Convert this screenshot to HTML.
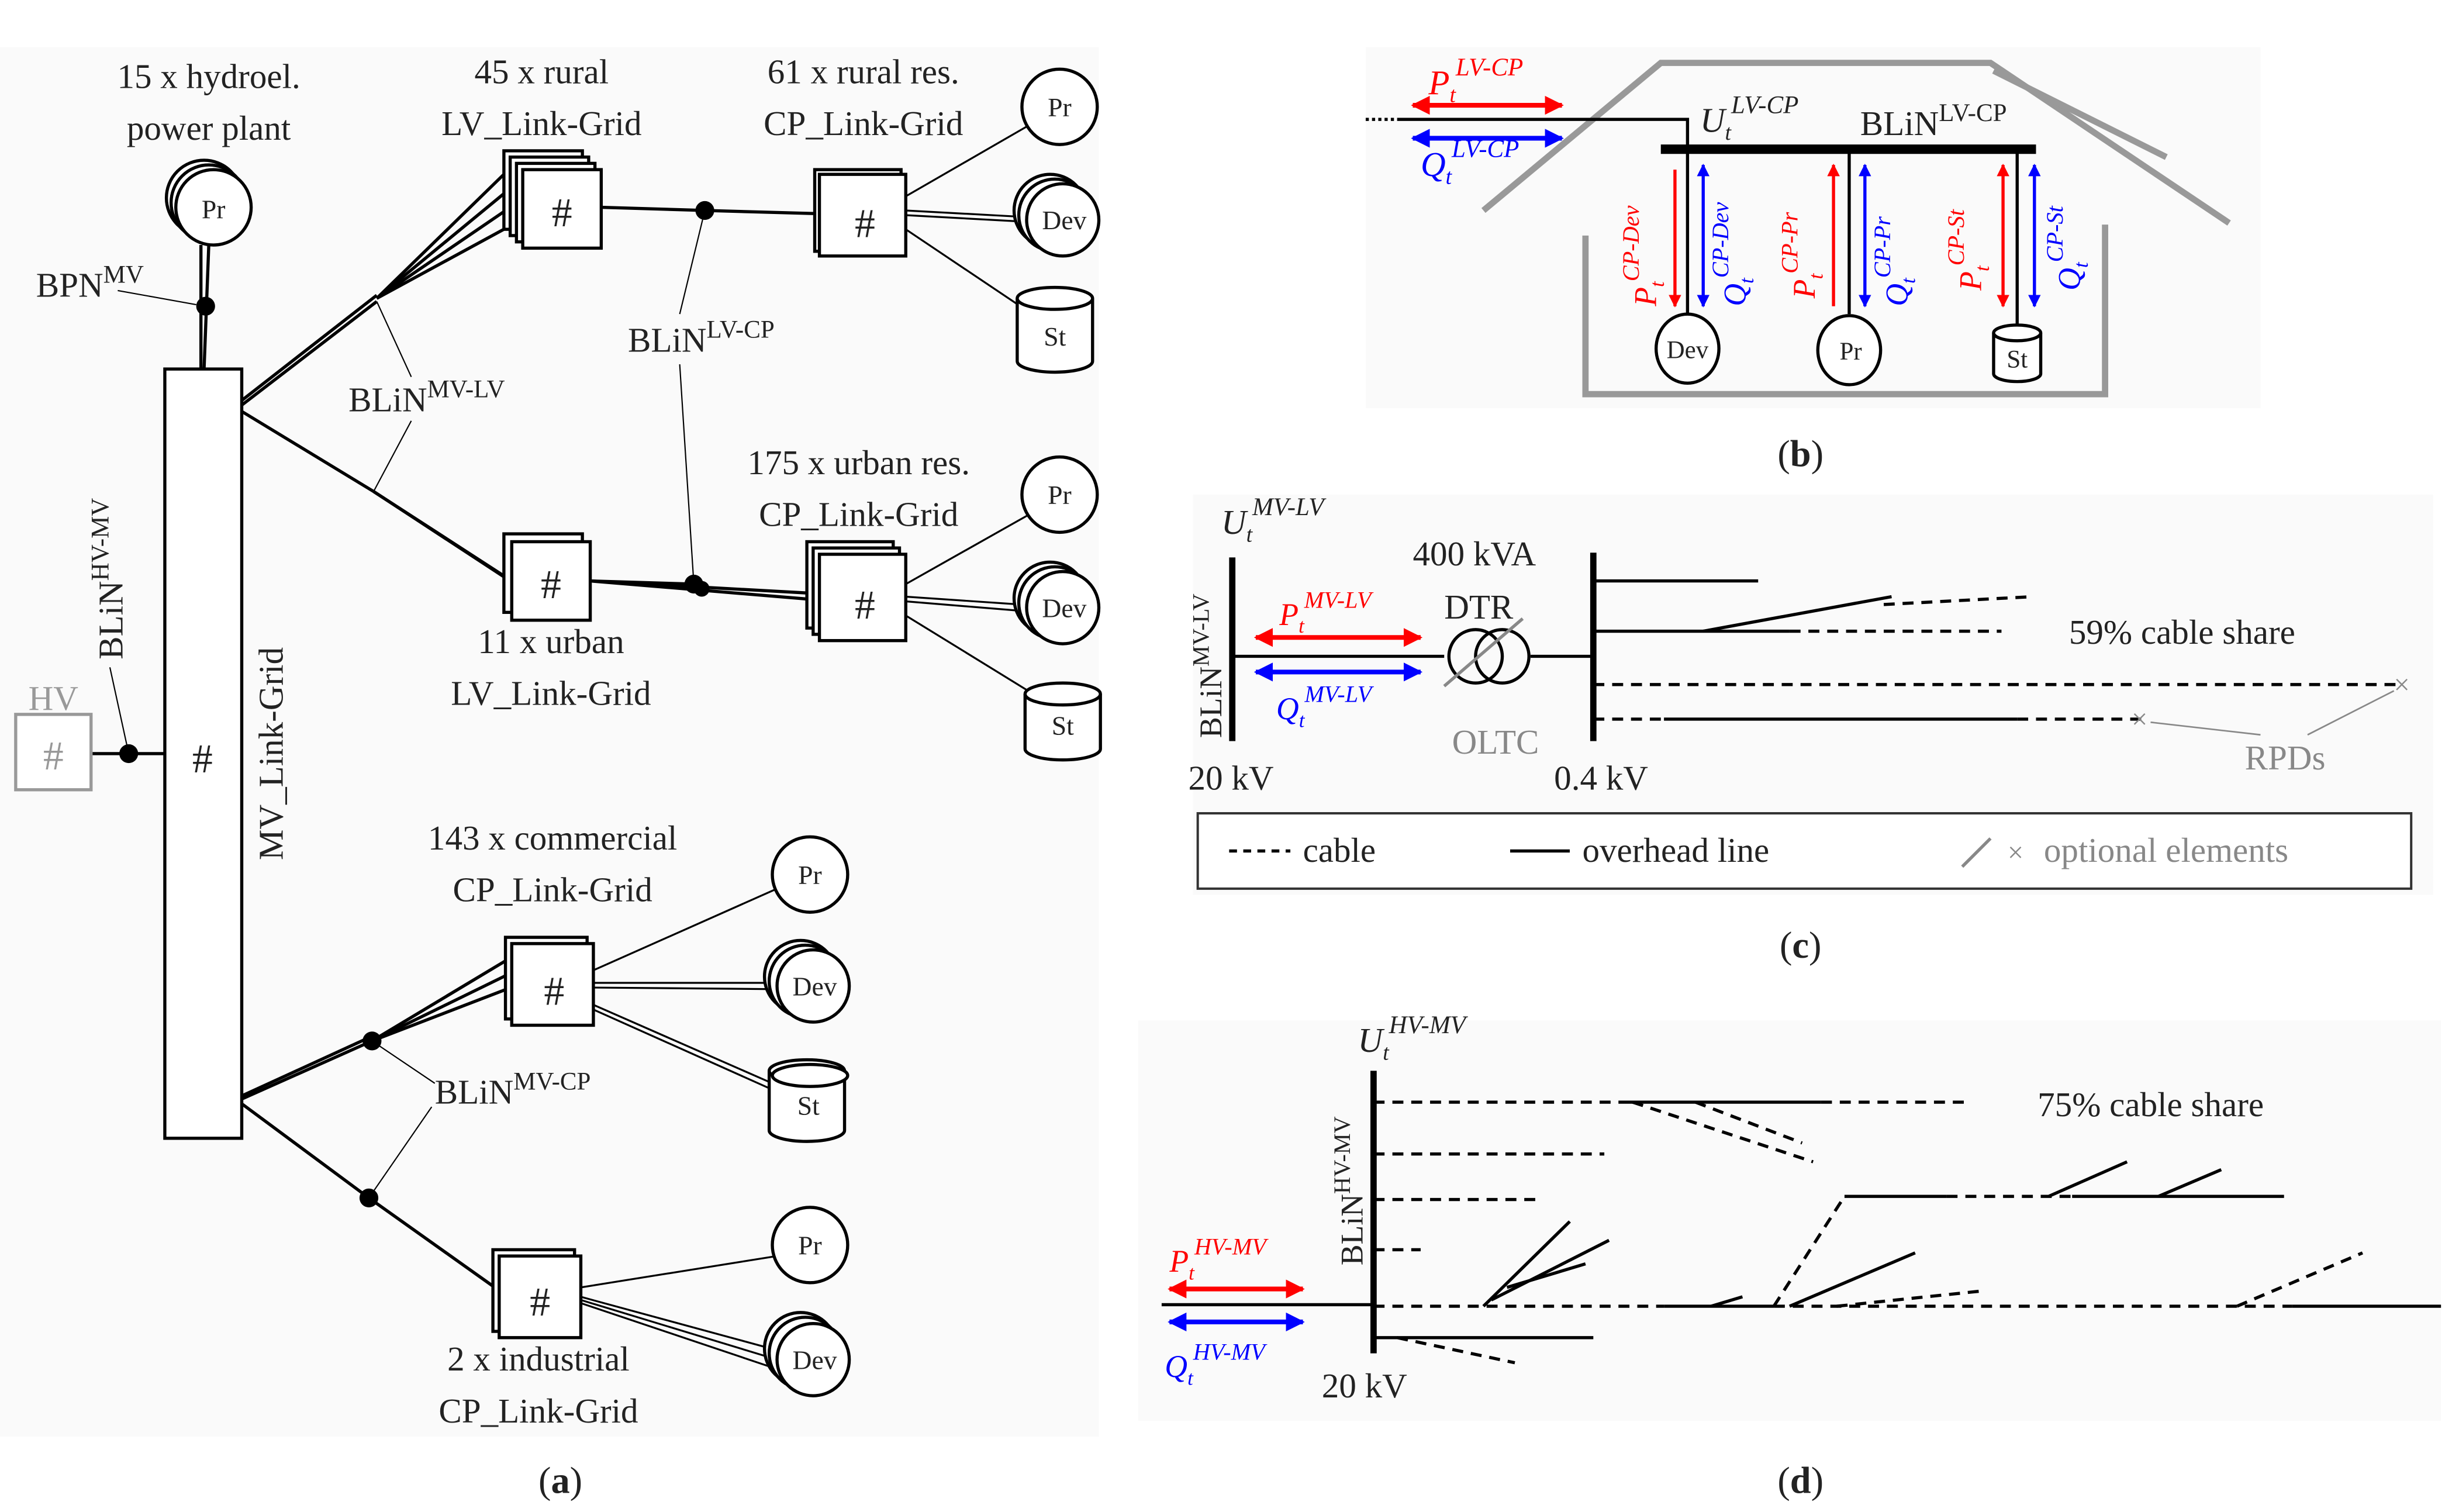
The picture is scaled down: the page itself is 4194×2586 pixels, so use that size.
<!DOCTYPE html>
<html><head><meta charset="utf-8"><style>
html,body{margin:0;padding:0;background:#fff}
svg{display:block}
text{font-family:"Liberation Serif",serif;fill:#222}
</style></head><body>
<svg width="4194" height="2586" viewBox="0 0 1562 963" xmlns="http://www.w3.org/2000/svg">
<defs>
<marker id="ar" viewBox="0 0 10 10" refX="9" refY="5" markerWidth="4" markerHeight="4" orient="auto-start-reverse"><path d="M0,0L10,5L0,10z" fill="#f00"/></marker>
<marker id="ab" viewBox="0 0 10 10" refX="9" refY="5" markerWidth="4" markerHeight="4" orient="auto-start-reverse"><path d="M0,0L10,5L0,10z" fill="#00f"/></marker>
</defs>
<rect x="0" y="30" width="700" height="885" fill="#fafafa"/>
<rect x="870" y="30" width="570" height="230" fill="#fafafa"/>
<rect x="760" y="315" width="790" height="255" fill="#fafafa"/>
<rect x="725" y="650" width="830" height="255" fill="#fafafa"/>

<!-- PANEL A -->
<g stroke="#000" stroke-width="2" fill="#fff">
<circle cx="130" cy="126" r="24"/><circle cx="133" cy="129" r="24"/><circle cx="136" cy="132" r="24"/>
</g>
<text x="136" y="139" font-size="17" text-anchor="middle">Pr</text>
<text x="133" y="56" font-size="22" text-anchor="middle">15 x hydroel.</text>
<text x="133" y="89" font-size="22" text-anchor="middle">power plant</text>
<text x="23" y="189" font-size="22">BPN<tspan dy="-9" font-size="16">MV</tspan></text>
<g stroke="#000" stroke-width="2" fill="none">
<line x1="133" y1="156" x2="130" y2="235"/><line x1="128" y1="156" x2="128" y2="235"/>
<line x1="75" y1="185" x2="125" y2="194" stroke-width="0.8"/>
<rect x="105" y="235" width="49" height="490" fill="#fff"/>
<line x1="58" y1="480" x2="105" y2="480"/>
<line x1="82" y1="480" x2="70" y2="425" stroke-width="0.8"/>
</g>
<circle cx="131" cy="195" r="6"/>
<circle cx="82" cy="480" r="6"/>
<text x="129" y="492" font-size="26" text-anchor="middle">#</text>
<text transform="translate(180,480) rotate(-90)" font-size="22" text-anchor="middle">MV_Link-Grid</text>
<rect x="10" y="455" width="48" height="48" fill="#fff" stroke="#999" stroke-width="2"/>
<text x="34" y="490" font-size="26" text-anchor="middle" fill="#999" style="fill:#999">#</text>
<text x="34" y="452" font-size="22" text-anchor="middle" style="fill:#999">HV</text>
<text transform="translate(78,420) rotate(-90)" font-size="22">BLiN<tspan dy="-9" font-size="16">HV-MV</tspan></text>

<!-- rural LV -->
<g stroke="#000" stroke-width="2" fill="none">
<line x1="154" y1="258" x2="240" y2="192"/><line x1="154" y1="255" x2="240" y2="188"/>
<line x1="240" y1="190" x2="322" y2="110"/><line x1="240" y1="190" x2="325" y2="120"/><line x1="240" y1="190" x2="328" y2="130"/><line x1="240" y1="190" x2="332" y2="140"/>
<line x1="154" y1="262" x2="238" y2="313"/><line x1="238" y1="313" x2="322" y2="368"/><line x1="238" y1="313" x2="326" y2="370"/>
<line x1="240" y1="192" x2="262" y2="240" stroke-width="0.8"/><line x1="238" y1="313" x2="262" y2="268" stroke-width="0.8"/>
</g>
<g stroke="#000" stroke-width="2" fill="#fff">
<rect x="321" y="96" width="50" height="50"/><rect x="325" y="100" width="50" height="50"/><rect x="329" y="104" width="50" height="50"/><rect x="333" y="108" width="50" height="50"/>
<rect x="321" y="340" width="50" height="50"/><rect x="326" y="345" width="50" height="50"/>
</g>
<text x="358" y="144" font-size="26" text-anchor="middle">#</text>
<text x="351" y="381" font-size="26" text-anchor="middle">#</text>
<text x="345" y="53" font-size="22" text-anchor="middle">45 x rural</text>
<text x="345" y="86" font-size="22" text-anchor="middle">LV_Link-Grid</text>
<text x="351" y="416" font-size="22" text-anchor="middle">11 x urban</text>
<text x="351" y="449" font-size="22" text-anchor="middle">LV_Link-Grid</text>
<text x="222" y="262" font-size="22">BLiN<tspan dy="-9" font-size="16">MV-LV</tspan></text>

<!-- CP rural res -->
<g stroke="#000" stroke-width="2" fill="none">
<line x1="383" y1="132" x2="449" y2="134"/><line x1="449" y1="134" x2="520" y2="136"/>
<line x1="376" y1="370" x2="442" y2="372"/><line x1="376" y1="370" x2="520" y2="378"/><line x1="376" y1="370" x2="520" y2="382"/>
<line x1="449" y1="134" x2="433" y2="200" stroke-width="0.8"/><line x1="442" y1="372" x2="433" y2="232" stroke-width="0.8"/>
</g>
<circle cx="449" cy="134" r="6"/><circle cx="442" cy="372" r="6"/><circle cx="447" cy="375" r="5"/>
<g stroke="#000" stroke-width="2" fill="#fff">
<rect x="519" y="108" width="55" height="52"/><rect x="522" y="111" width="55" height="52"/>
<rect x="514" y="345" width="55" height="55"/><rect x="518" y="349" width="55" height="55"/><rect x="522" y="353" width="55" height="55"/>
</g>
<text x="551" y="151" font-size="26" text-anchor="middle">#</text>
<text x="551" y="394" font-size="26" text-anchor="middle">#</text>
<text x="550" y="53" font-size="22" text-anchor="middle">61 x rural res.</text>
<text x="550" y="86" font-size="22" text-anchor="middle">CP_Link-Grid</text>
<text x="547" y="302" font-size="22" text-anchor="middle">175 x urban res.</text>
<text x="547" y="335" font-size="22" text-anchor="middle">CP_Link-Grid</text>
<text x="400" y="224" font-size="22">BLiN<tspan dy="-9" font-size="16">LV-CP</tspan></text>

<g stroke="#000" stroke-width="1.2" fill="none">
<line x1="577" y1="125" x2="655" y2="80"/><line x1="577" y1="134" x2="650" y2="138"/><line x1="577" y1="137" x2="650" y2="141"/><line x1="577" y1="146" x2="650" y2="195"/>
<line x1="577" y1="372" x2="655" y2="328"/><line x1="577" y1="380" x2="650" y2="385"/><line x1="577" y1="383" x2="650" y2="389"/><line x1="577" y1="392" x2="655" y2="440"/>
<line x1="378" y1="618" x2="495" y2="566"/><line x1="378" y1="626" x2="492" y2="626"/><line x1="378" y1="629" x2="492" y2="630"/><line x1="378" y1="640" x2="492" y2="690"/><line x1="378" y1="643" x2="492" y2="694"/>
<line x1="370" y1="820" x2="495" y2="800"/><line x1="370" y1="826" x2="495" y2="860"/><line x1="370" y1="828" x2="495" y2="866"/><line x1="370" y1="830" x2="495" y2="872"/>
</g>

<!-- Pr/Dev/St shapes -->
<g stroke="#000" stroke-width="2" fill="#fff">
<circle cx="675" cy="68" r="24"/>
<circle cx="669" cy="134" r="23"/><circle cx="672" cy="137" r="23"/><circle cx="677" cy="140" r="23"/>
<path d="M648,190 v40 a24,7 0 0 0 48,0 v-40"/><ellipse cx="672" cy="190" rx="24" ry="7"/>
<circle cx="675" cy="315" r="24"/>
<circle cx="669" cy="381" r="23"/><circle cx="672" cy="384" r="23"/><circle cx="677" cy="387" r="23"/>
<path d="M653,442 v35 a24,7 0 0 0 48,0 v-35"/><ellipse cx="677" cy="442" rx="24" ry="7"/>
<circle cx="516" cy="557" r="24"/>
<circle cx="510" cy="622" r="23"/><circle cx="513" cy="625" r="23"/><circle cx="518" cy="628" r="23"/>
<path d="M490,682 v38 a24,7 0 0 0 48,0 v-38"/><ellipse cx="514" cy="682" rx="24" ry="7"/><ellipse cx="516" cy="685" rx="24" ry="7"/>
<circle cx="516" cy="793" r="24"/>
<circle cx="510" cy="859" r="23"/><circle cx="513" cy="862" r="23"/><circle cx="518" cy="866" r="23"/>
</g>
<g font-size="17" text-anchor="middle">
<text x="675" y="74">Pr</text><text x="678" y="146">Dev</text><text x="672" y="220">St</text>
<text x="675" y="321">Pr</text><text x="678" y="393">Dev</text><text x="677" y="468">St</text>
<text x="516" y="563">Pr</text><text x="519" y="634">Dev</text><text x="515" y="710">St</text>
<text x="516" y="799">Pr</text><text x="519" y="872">Dev</text>
</g>

<!-- commercial / industrial -->
<g stroke="#000" stroke-width="2" fill="none">
<line x1="154" y1="700" x2="237" y2="663"/><line x1="154" y1="698" x2="237" y2="660"/>
<line x1="237" y1="663" x2="322" y2="612"/><line x1="237" y1="663" x2="325" y2="620"/><line x1="237" y1="663" x2="328" y2="628"/>
<line x1="154" y1="703" x2="235" y2="763"/><line x1="235" y1="763" x2="318" y2="822"/>
<line x1="237" y1="663" x2="277" y2="690" stroke-width="0.8"/><line x1="235" y1="763" x2="275" y2="705" stroke-width="0.8"/>
</g>
<circle cx="237" cy="663" r="6"/><circle cx="235" cy="763" r="6"/>
<g stroke="#000" stroke-width="2" fill="#fff">
<rect x="322" y="597" width="52" height="52"/><rect x="326" y="601" width="52" height="52"/>
<rect x="314" y="796" width="52" height="52"/><rect x="318" y="800" width="52" height="52"/>
</g>
<text x="353" y="640" font-size="26" text-anchor="middle">#</text>
<text x="344" y="838" font-size="26" text-anchor="middle">#</text>
<text x="352" y="541" font-size="22" text-anchor="middle">143 x commercial</text>
<text x="352" y="574" font-size="22" text-anchor="middle">CP_Link-Grid</text>
<text x="343" y="873" font-size="22" text-anchor="middle">2 x industrial</text>
<text x="343" y="906" font-size="22" text-anchor="middle">CP_Link-Grid</text>
<text x="277" y="703" font-size="22">BLiN<tspan dy="-9" font-size="16">MV-CP</tspan></text>
<text x="357" y="951" font-size="24" text-anchor="middle">(<tspan font-weight="bold">a</tspan>)</text>

<!-- PANEL B -->
<g stroke="#999" stroke-width="4" fill="none">
<polyline points="945,134 1058,40 1268,40 1420,142"/>
<line x1="1270" y1="45" x2="1380" y2="100"/>
<polyline points="1010,150 1010,251 1341,251 1341,143"/>
</g>
<line x1="870" y1="76" x2="890" y2="76" stroke="#000" stroke-width="2" stroke-dasharray="2,2"/>
<polyline points="890,76 1075,76 1075,95" stroke="#000" stroke-width="2" fill="none"/>
<line x1="1058" y1="95" x2="1297" y2="95" stroke="#000" stroke-width="6"/>
<g stroke="#000" stroke-width="2">
<line x1="1075" y1="95" x2="1075" y2="200"/><line x1="1178" y1="95" x2="1178" y2="200"/><line x1="1285" y1="95" x2="1285" y2="207"/>
</g>
<line x1="900" y1="67" x2="995" y2="67" stroke="#f00" stroke-width="3" marker-start="url(#ar)" marker-end="url(#ar)"/>
<line x1="900" y1="88" x2="995" y2="88" stroke="#00f" stroke-width="3" marker-start="url(#ab)" marker-end="url(#ab)"/>
<text x="910" y="60" font-size="22" font-style="italic" style="fill:#f00">P<tspan font-size="14" dy="5">t</tspan><tspan font-size="16" dy="-17">LV-CP</tspan></text>
<text x="905" y="112" font-size="22" font-style="italic" style="fill:#00f">Q<tspan font-size="14" dy="5">t</tspan><tspan font-size="16" dy="-17">LV-CP</tspan></text>
<text x="1083" y="84" font-size="22" font-style="italic">U<tspan font-size="14" dy="5">t</tspan><tspan font-size="16" dy="-17">LV-CP</tspan></text>
<text x="1185" y="86" font-size="22">BLiN<tspan dy="-9" font-size="16">LV-CP</tspan></text>
<g stroke-width="2">
<line x1="1067" y1="108" x2="1067" y2="195" stroke="#f00" marker-end="url(#ar)"/>
<line x1="1085" y1="105" x2="1085" y2="195" stroke="#00f" marker-start="url(#ab)" marker-end="url(#ab)"/>
<line x1="1168" y1="195" x2="1168" y2="105" stroke="#f00" marker-end="url(#ar)"/>
<line x1="1188" y1="105" x2="1188" y2="195" stroke="#00f" marker-start="url(#ab)" marker-end="url(#ab)"/>
<line x1="1276" y1="105" x2="1276" y2="195" stroke="#f00" marker-start="url(#ar)" marker-end="url(#ar)"/>
<line x1="1296" y1="105" x2="1296" y2="195" stroke="#00f" marker-start="url(#ab)" marker-end="url(#ab)"/>
</g>
<g font-size="20" font-style="italic">
<text transform="translate(1055,195) rotate(-90)" style="fill:#f00">P<tspan font-size="13" dy="5">t</tspan><tspan font-size="15" dy="-16">CP-Dev</tspan></text>
<text transform="translate(1112,195) rotate(-90)" style="fill:#00f">Q<tspan font-size="13" dy="5">t</tspan><tspan font-size="15" dy="-16">CP-Dev</tspan></text>
<text transform="translate(1156,190) rotate(-90)" style="fill:#f00">P<tspan font-size="13" dy="5">t</tspan><tspan font-size="15" dy="-16">CP-Pr</tspan></text>
<text transform="translate(1215,195) rotate(-90)" style="fill:#00f">Q<tspan font-size="13" dy="5">t</tspan><tspan font-size="15" dy="-16">CP-Pr</tspan></text>
<text transform="translate(1262,185) rotate(-90)" style="fill:#f00">P<tspan font-size="13" dy="5">t</tspan><tspan font-size="15" dy="-16">CP-St</tspan></text>
<text transform="translate(1325,185) rotate(-90)" style="fill:#00f">Q<tspan font-size="13" dy="5">t</tspan><tspan font-size="15" dy="-16">CP-St</tspan></text>
</g>
<g stroke="#000" stroke-width="2" fill="#fff">
<ellipse cx="1075" cy="222" rx="20" ry="22"/><ellipse cx="1178" cy="223" rx="20" ry="22"/>
<path d="M1270,212 v26 a15,5 0 0 0 30,0 v-26"/><ellipse cx="1285" cy="212" rx="15" ry="5"/>
</g>
<g font-size="16" text-anchor="middle"><text x="1075" y="228">Dev</text><text x="1179" y="229">Pr</text><text x="1285" y="234">St</text></g>
<text x="1147" y="297" font-size="24" text-anchor="middle">(<tspan font-weight="bold">b</tspan>)</text>

<!-- PANEL C -->
<line x1="785" y1="355" x2="785" y2="472" stroke="#000" stroke-width="4"/>
<line x1="785" y1="418" x2="920" y2="418" stroke="#000" stroke-width="2"/>
<line x1="975" y1="418" x2="1015" y2="418" stroke="#000" stroke-width="2"/>
<circle cx="940" cy="418" r="17" fill="none" stroke="#000" stroke-width="2"/>
<circle cx="957" cy="418" r="17" fill="none" stroke="#000" stroke-width="2"/>
<line x1="920" y1="437" x2="970" y2="394" stroke="#888" stroke-width="2"/>
<line x1="1015" y1="352" x2="1015" y2="472" stroke="#000" stroke-width="4"/>
<g stroke="#000" stroke-width="2" fill="none">
<line x1="1015" y1="370" x2="1120" y2="370"/>
<line x1="1015" y1="402" x2="1140" y2="402"/>
<line x1="1085" y1="402" x2="1205" y2="380"/>
<line x1="1140" y1="402" x2="1275" y2="402" stroke-dasharray="7,5"/>
<line x1="1200" y1="385" x2="1295" y2="380" stroke-dasharray="7,5"/>
<line x1="1015" y1="436" x2="1530" y2="436" stroke-dasharray="7,5"/>
<line x1="1015" y1="458" x2="1060" y2="458" stroke-dasharray="7,5"/>
<line x1="1060" y1="458" x2="1285" y2="458"/>
<line x1="1285" y1="458" x2="1365" y2="458" stroke-dasharray="7,5"/>
</g>
<text x="1530" y="442" font-size="18" text-anchor="middle" style="fill:#888">×</text>
<text x="1363" y="464" font-size="18" text-anchor="middle" style="fill:#888">×</text>
<line x1="1470" y1="468" x2="1525" y2="440" stroke="#888" stroke-width="1"/>
<line x1="1440" y1="468" x2="1370" y2="460" stroke="#888" stroke-width="1"/>
<text x="1430" y="490" font-size="22" style="fill:#888">RPDs</text>
<text x="1318" y="410" font-size="22">59% cable share</text>
<line x1="800" y1="406" x2="905" y2="406" stroke="#f00" stroke-width="3" marker-start="url(#ar)" marker-end="url(#ar)"/>
<line x1="800" y1="428" x2="905" y2="428" stroke="#00f" stroke-width="3" marker-start="url(#ab)" marker-end="url(#ab)"/>
<text x="815" y="398" font-size="20" font-style="italic" style="fill:#f00">P<tspan font-size="13" dy="5">t</tspan><tspan font-size="15" dy="-16">MV-LV</tspan></text>
<text x="813" y="458" font-size="20" font-style="italic" style="fill:#00f">Q<tspan font-size="13" dy="5">t</tspan><tspan font-size="15" dy="-16">MV-LV</tspan></text>
<text x="778" y="340" font-size="22" font-style="italic">U<tspan font-size="14" dy="5">t</tspan><tspan font-size="16" dy="-17">MV-LV</tspan></text>
<text transform="translate(778,470) rotate(-90)" font-size="20">BLiN<tspan dy="-8" font-size="15">MV-LV</tspan></text>
<text x="900" y="360" font-size="22">400 kVA</text>
<text x="920" y="394" font-size="22">DTR</text>
<text x="925" y="480" font-size="22" style="fill:#888">OLTC</text>
<text x="757" y="503" font-size="22">20 kV</text>
<text x="990" y="503" font-size="22">0.4 kV</text>
<rect x="763" y="518" width="773" height="48" fill="#fff" stroke="#333" stroke-width="1.5"/>
<line x1="783" y1="542" x2="822" y2="542" stroke="#000" stroke-width="2" stroke-dasharray="5,4"/>
<text x="830" y="549" font-size="22">cable</text>
<line x1="962" y1="542" x2="1000" y2="542" stroke="#000" stroke-width="2"/>
<text x="1008" y="549" font-size="22">overhead line</text>
<line x1="1250" y1="552" x2="1268" y2="534" stroke="#888" stroke-width="2"/>
<text x="1284" y="549" font-size="18" text-anchor="middle" style="fill:#888">×</text>
<text x="1302" y="549" font-size="22" style="fill:#888">optional elements</text>
<text x="1147" y="610" font-size="24" text-anchor="middle">(<tspan font-weight="bold">c</tspan>)</text>

<!-- PANEL D -->
<line x1="875" y1="682" x2="875" y2="862" stroke="#000" stroke-width="4"/>
<line x1="740" y1="831" x2="875" y2="831" stroke="#000" stroke-width="2"/>
<line x1="745" y1="821" x2="830" y2="821" stroke="#f00" stroke-width="3" marker-start="url(#ar)" marker-end="url(#ar)"/>
<line x1="745" y1="842" x2="830" y2="842" stroke="#00f" stroke-width="3" marker-start="url(#ab)" marker-end="url(#ab)"/>
<text x="745" y="810" font-size="20" font-style="italic" style="fill:#f00">P<tspan font-size="13" dy="5">t</tspan><tspan font-size="15" dy="-16">HV-MV</tspan></text>
<text x="742" y="877" font-size="20" font-style="italic" style="fill:#00f">Q<tspan font-size="13" dy="5">t</tspan><tspan font-size="15" dy="-16">HV-MV</tspan></text>
<text x="865" y="670" font-size="22" font-style="italic">U<tspan font-size="14" dy="5">t</tspan><tspan font-size="16" dy="-17">HV-MV</tspan></text>
<text transform="translate(868,806) rotate(-90)" font-size="20">BLiN<tspan dy="-8" font-size="15">HV-MV</tspan></text>
<text x="842" y="890" font-size="22">20 kV</text>
<text x="1298" y="711" font-size="22">75% cable share</text>
<g stroke="#000" stroke-width="2" fill="none">
<line x1="875" y1="702" x2="1035" y2="702" stroke-dasharray="7,5"/>
<line x1="1035" y1="702" x2="1160" y2="702"/>
<line x1="1160" y1="702" x2="1255" y2="702" stroke-dasharray="7,5"/>
<line x1="1040" y1="702" x2="1155" y2="740" stroke-dasharray="7,5"/>
<line x1="1080" y1="702" x2="1148" y2="728" stroke-dasharray="7,5"/>
<line x1="875" y1="735" x2="1022" y2="735" stroke-dasharray="7,5"/>
<line x1="875" y1="764" x2="980" y2="764" stroke-dasharray="7,5"/>
<line x1="875" y1="796" x2="905" y2="796" stroke-dasharray="7,5"/>
<line x1="875" y1="832" x2="1060" y2="832" stroke-dasharray="7,5"/>
<line x1="1060" y1="832" x2="1130" y2="832"/>
<line x1="1130" y1="832" x2="1460" y2="832" stroke-dasharray="7,5"/>
<line x1="1460" y1="832" x2="1555" y2="832"/>
<line x1="1130" y1="832" x2="1175" y2="762" stroke-dasharray="7,5"/>
<line x1="1175" y1="762" x2="1240" y2="762"/>
<line x1="1240" y1="762" x2="1320" y2="762" stroke-dasharray="7,5"/>
<line x1="1320" y1="762" x2="1455" y2="762"/>
<line x1="1305" y1="762" x2="1355" y2="740"/>
<line x1="1375" y1="762" x2="1415" y2="745"/>
<line x1="945" y1="832" x2="1000" y2="778"/>
<line x1="950" y1="828" x2="1025" y2="790"/>
<line x1="960" y1="820" x2="1010" y2="805"/>
<line x1="1140" y1="832" x2="1220" y2="798"/>
<line x1="1425" y1="832" x2="1505" y2="798" stroke-dasharray="7,5"/>
<line x1="1090" y1="832" x2="1110" y2="826"/>
<line x1="1170" y1="832" x2="1265" y2="822" stroke-dasharray="7,5"/>
<line x1="875" y1="852" x2="1015" y2="852"/>
<line x1="890" y1="852" x2="965" y2="868" stroke-dasharray="7,5"/>
</g>
<text x="1147" y="951" font-size="24" text-anchor="middle">(<tspan font-weight="bold">d</tspan>)</text>
</svg>
</body></html>
